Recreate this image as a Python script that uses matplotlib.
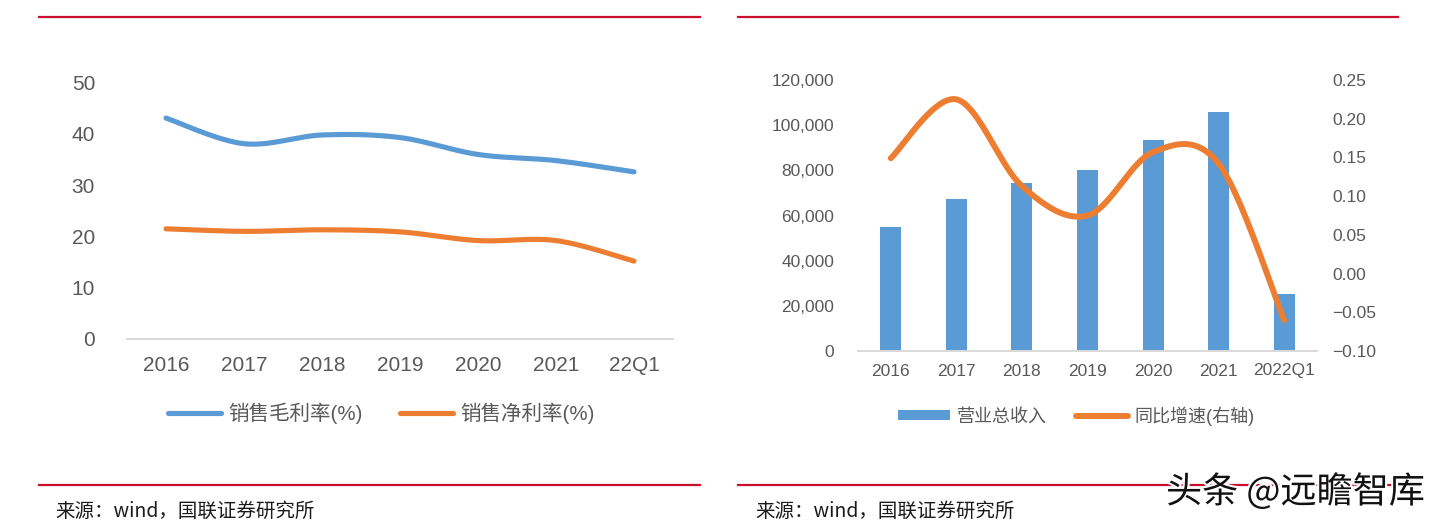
import numpy as np
import matplotlib
matplotlib.use("Agg")
import matplotlib.pyplot as plt
from matplotlib.lines import Line2D
from matplotlib.patches import Patch
import matplotlib.patheffects as pe

plt.rcParams['font.family'] = ['Liberation Sans', 'Noto Sans CJK SC', 'DejaVu Sans']

# ---------------- data ----------------
left_categories = ['2016', '2017', '2018', '2019', '2020', '2021', '22Q1']
gross_margin = [43.1, 38.1, 39.8, 39.3, 36.0, 34.8, 32.6]
net_margin = [21.5, 21.0, 21.3, 20.9, 19.2, 19.2, 15.2]
left_yticks = [0, 10, 20, 30, 40, 50]

right_categories = ['2016', '2017', '2018', '2019', '2020', '2021', '2022Q1']
revenue = [54800, 67200, 74500, 80300, 93300, 105800, 25400]
yoy_growth = [0.149, 0.225, 0.113, 0.075, 0.157, 0.142, -0.060]
rev_ticks = [0, 20000, 40000, 60000, 80000, 100000, 120000]
yoy_ticks = [-0.10, -0.05, 0.00, 0.05, 0.10, 0.15, 0.20, 0.25]

left_legend = ['销售毛利率(%)', '销售净利率(%)']
right_legend = ['营业总收入', '同比增速(右轴)']
source_text = '来源：wind，国联证券研究所'
watermark = '头条 @远瞻智库'

BLUE = '#5B9BD5'
ORANGE = '#ED7D31'
GRAY_TXT = '#595959'
AXIS_GRAY = '#D9D9D9'
RED = '#C8102E'

W, H = 1447, 531
fig = plt.figure(figsize=(W / 100, H / 100), dpi=100)


def box(x0, x1, ytop, ybot):
    return [x0 / W, 1 - ybot / H, (x1 - x0) / W, (ybot - ytop) / H]


def smooth(y, n=40):
    """Excel-like smoothed line (Catmull-Rom Bezier) through the points."""
    y = np.asarray(y, float)
    x = np.arange(len(y), dtype=float)
    xs, ys = [], []
    t = np.linspace(0, 1, n)
    for i in range(len(y) - 1):
        p0 = max(i - 1, 0)
        p3 = min(i + 2, len(y) - 1)
        c1x = x[i] + (x[i + 1] - x[p0]) / 6
        c1y = y[i] + (y[i + 1] - y[p0]) / 6
        c2x = x[i + 1] - (x[p3] - x[i]) / 6
        c2y = y[i + 1] - (y[p3] - y[i]) / 6
        bx = (1 - t) ** 3 * x[i] + 3 * (1 - t) ** 2 * t * c1x + 3 * (1 - t) * t ** 2 * c2x + t ** 3 * x[i + 1]
        by = (1 - t) ** 3 * y[i] + 3 * (1 - t) ** 2 * t * c1y + 3 * (1 - t) * t ** 2 * c2y + t ** 3 * y[i + 1]
        xs.append(bx if i == 0 else bx[1:])
        ys.append(by if i == 0 else by[1:])
    return np.concatenate(xs), np.concatenate(ys)


def style_axes(ax):
    for s in ['top', 'right', 'left']:
        ax.spines[s].set_visible(False)
    ax.spines['bottom'].set_color(AXIS_GRAY)
    ax.spines['bottom'].set_linewidth(1.4)
    ax.tick_params(axis='both', length=0, colors=GRAY_TXT)


# ---------------- left chart ----------------
axL = fig.add_axes(box(127, 673, 82.7, 339))
style_axes(axL)
xg, yg = smooth(gross_margin)
xn, yn = smooth(net_margin)
axL.plot(xg, yg, color=BLUE, lw=3.7, solid_capstyle='round', label=left_legend[0])
axL.plot(xn, yn, color=ORANGE, lw=3.7, solid_capstyle='round', label=left_legend[1])
axL.set_xlim(-0.5, len(left_categories) - 0.5)
axL.set_ylim(0, 50)
axL.set_yticks(left_yticks)
axL.set_yticklabels([str(v) for v in left_yticks], fontsize=15, color=GRAY_TXT)
axL.set_xticks(range(len(left_categories)))
axL.set_xticklabels(left_categories, fontsize=15, color=GRAY_TXT)
axL.tick_params(axis='y', pad=23)
axL.tick_params(axis='x', pad=12)
legL = axL.legend(loc='center left', bbox_to_anchor=(168 / W, 1 - 413 / H),
                  bbox_transform=fig.transFigure, ncol=2, frameon=False,
                  fontsize=14.8, handlelength=2.6, handletextpad=0.35,
                  columnspacing=1.8, borderpad=0, borderaxespad=0)
for t in legL.get_texts():
    t.set_color(GRAY_TXT)

# ---------------- right chart ----------------
axR = fig.add_axes(box(858, 1317, 80, 351))
style_axes(axR)
xr = np.arange(len(right_categories))
axR.bar(xr, revenue, width=0.32, color=BLUE, label=right_legend[0], zorder=2)
axR.set_xlim(-0.5, len(right_categories) - 0.5)
axR.set_ylim(0, 120000)
axR.set_yticks(rev_ticks)
axR.set_yticklabels([f'{v:,.0f}' for v in rev_ticks], fontsize=12.5, color=GRAY_TXT)
axR.set_xticks(xr)
axR.set_xticklabels(right_categories, fontsize=12.5, color=GRAY_TXT)
axR.tick_params(axis='y', pad=17)
axR.tick_params(axis='x', pad=9)

axR2 = axR.twinx()
for s in ['top', 'right', 'left', 'bottom']:
    axR2.spines[s].set_visible(False)
xs, ys = smooth(yoy_growth)
axR2.plot(xs, ys, color=ORANGE, lw=4.3, solid_capstyle='round', label=right_legend[1], zorder=3)
axR2.set_ylim(-0.10, 0.25)
axR2.set_yticks(yoy_ticks)
axR2.set_yticklabels([f'{v:.2f}'.replace('-', '−') for v in yoy_ticks], fontsize=12.5, color=GRAY_TXT)
axR2.tick_params(axis='y', length=0, pad=11, colors=GRAY_TXT)

handles = [Patch(facecolor=BLUE, edgecolor='none'),
           Line2D([0], [0], color=ORANGE, lw=4.3, solid_capstyle='round')]
legR = fig.legend(handles, right_legend, loc='center left',
                  bbox_to_anchor=(898 / W, 1 - 416 / H), ncol=2, frameon=False,
                  fontsize=13, handlelength=2.9, handleheight=0.45, handletextpad=0.35,
                  columnspacing=1.6, borderpad=0, borderaxespad=0)
for t in legR.get_texts():
    t.set_color(GRAY_TXT)

# ---------------- frame rules and source ----------------
for (x0, x1) in [(39, 700), (738, 1398)]:
    for yy in (16.5, 484.5):
        fig.add_artist(Line2D([x0 / W, x1 / W], [1 - yy / H, 1 - yy / H],
                              color=RED, lw=1.6, transform=fig.transFigure))

for x0 in (55, 755):
    fig.text(x0 / W, 1 - 511 / H, source_text, fontsize=14, color='#1a1a1a',
             ha='left', va='center', family=['Noto Sans CJK SC', 'DejaVu Sans'])

fig.text(1166 / W, 1 - 492 / H, watermark, fontsize=26, color='#111111',
         ha='left', va='center', family=['Noto Sans CJK SC', 'DejaVu Sans'],
         fontweight='medium',
         path_effects=[pe.withStroke(linewidth=3, foreground='white')])

fig.savefig('out.png', dpi=100)
